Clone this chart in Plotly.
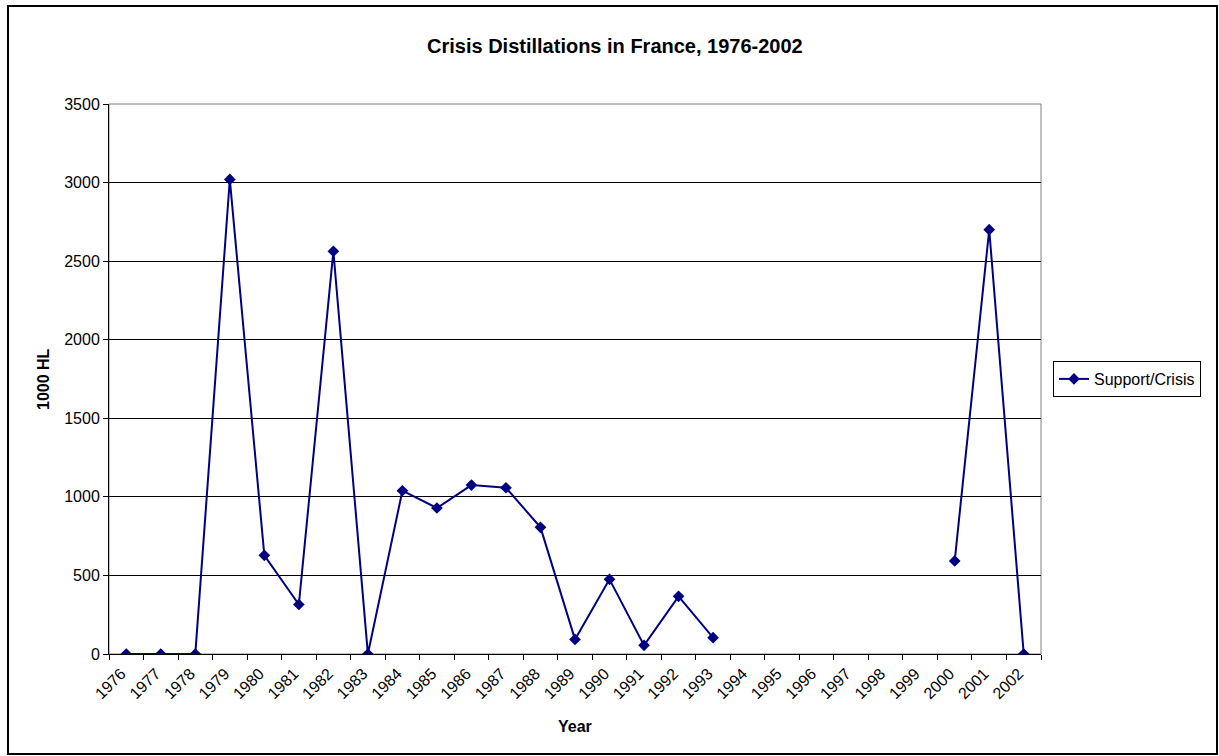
import plotly.graph_objects as go

years = [str(y) for y in range(1976, 2003)]
support_crisis = [0, 0, 0, 3020, 628, 315, 2563, 0, 1039, 929, 1075, 1058, 806,
                  93, 475, 55, 367, 104, None, None, None, None, None, None,
                  592, 2700, 0]

FONT = "Liberation Sans, Arial, sans-serif"
NAVY = "#000080"

# plot area in pixels
L, R, T, B = 109, 1041, 104, 654
W, H = 1219, 756
pw, ph = R - L, B - T


def px_x(x):
    return (x - L) / pw


def px_y(y):
    return (B - y) / ph


def label(text, x, y, size, angle=0):
    return dict(text=text, x=px_x(x), y=px_y(y), xref="paper", yref="paper",
                xanchor="center", yanchor="middle", showarrow=False,
                textangle=angle, font=dict(size=size))


fig = go.Figure()
fig.add_trace(go.Scatter(
    x=years, y=support_crisis, mode="lines+markers", name="Support/Crisis",
    line=dict(color=NAVY, width=2),
    marker=dict(symbol="diamond", size=9, color=NAVY),
    connectgaps=False,
))

fig.update_layout(
    width=W, height=H,
    margin=dict(l=L, r=W - R, t=T, b=H - B, pad=0),
    paper_bgcolor="white", plot_bgcolor="white",
    font=dict(family=FONT, size=16, color="black"),
    showlegend=True,
    legend=dict(x=px_x(1053), y=0.5, xanchor="left", yanchor="middle",
                bordercolor="black", borderwidth=1, bgcolor="white",
                font=dict(size=16), itemwidth=30),
    xaxis=dict(type="category", range=[-0.5, 26.5], tickangle=-45,
               tickson="boundaries", ticks="outside", ticklen=5,
               tickcolor="black", showline=True, linecolor="black",
               linewidth=1, showgrid=False, zeroline=False,
               ticklabelstandoff=3, ticklabelshift=-5,
               tickfont=dict(size=16)),
    yaxis=dict(range=[0, 3500], dtick=500, ticks="outside", ticklen=5,
               tickcolor="black", showline=True, linecolor="black",
               linewidth=1, showgrid=True, gridcolor="black", gridwidth=1,
               zeroline=False, tickfont=dict(size=16)),
    annotations=[
        label("<b>Crisis Distillations in France, 1976-2002</b>", 615, 46, 20),
        label("<b>1000 HL</b>", 43, 379, 16, angle=-90),
        label("<b>Year</b>", 575, 726, 16),
    ],
    shapes=[
        # plot area frame
        dict(type="rect", xref="paper", yref="paper", x0=0, x1=1, y0=0, y1=1,
             line=dict(color="#808080", width=1), layer="below"),
        # chart outer border
        dict(type="rect", xref="paper", yref="paper",
             x0=px_x(8), x1=px_x(1217), y0=px_y(6), y1=px_y(754),
             line=dict(color="black", width=2)),
    ],
)

fig.write_html("out.html")
